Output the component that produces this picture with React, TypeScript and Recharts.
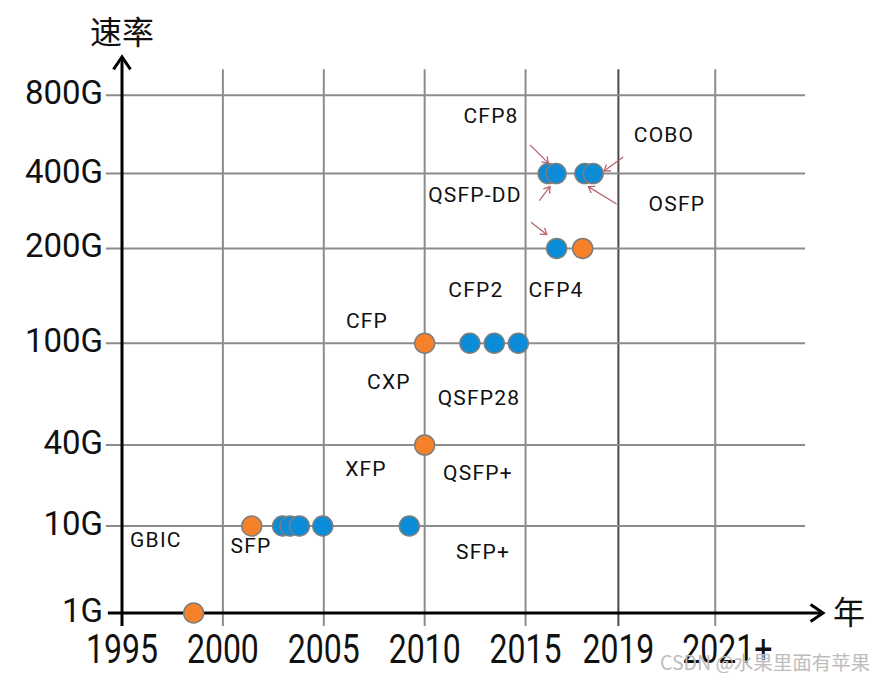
import React from 'react';
import { ScatterChart, Scatter, XAxis, YAxis, ReferenceLine, ReferenceDot } from 'recharts';

// speed axis (not evenly spaced in the original)
const SPEED_LABELS = ['1G', '10G', '40G', '100G', '200G', '400G', '800G'];
const SPEED_LEVELS = [0, 1, 1.93, 3.1, 4.19, 5.05, 5.95];

// year axis
const YEAR_TICKS = [1995, 2000, 2005, 2010, 2015, 2019.6, 2024.4];
const YEAR_LABELS = ['1995', '2000', '2005', '2010', '2015', '2019', '2021+'];

// orange modules
const ORANGE_YEARS = [1998.55, 2001.43, 2010, 2010, 2017.83];
const ORANGE_SPEEDS = ['1G', '10G', '40G', '100G', '200G'];

// blue modules
const BLUE_YEARS = [2002.96, 2003.33, 2003.79, 2004.95, 2009.24, 2012.24, 2013.45, 2014.64, 2016.54, 2016.12, 2016.51, 2017.94, 2018.35];
const BLUE_SPEEDS = ['10G', '10G', '10G', '10G', '10G', '100G', '100G', '100G', '200G', '400G', '400G', '400G', '400G'];

// module names
const NAMES = ['GBIC', 'SFP', 'SFP+', 'XFP', 'QSFP+', 'CXP', 'QSFP28', 'CFP', 'CFP2', 'CFP4', 'QSFP-DD', 'OSFP', 'CFP8', 'COBO'];
const NAME_YEARS = [1996.68, 2001.39, 2012.89, 2007.09, 2012.64, 2008.23, 2012.69, 2007.14, 2012.54, 2016.51, 2012.49, 2022.5, 2013.29, 2021.86];
const NAME_LEVELS = [0.84, 0.77, 0.7, 1.66, 1.61, 2.65, 2.47, 3.36, 3.71, 3.71, 4.8, 4.7, 5.71, 5.49];

// small pointer arrows: [fromYear, fromLevel, toYear, toLevel]
const POINTERS = [
  [2015.22, 5.38, 2016.13, 5.17],
  [2019.84, 5.24, 2018.89, 5.08],
  [2019.51, 4.7, 2018.11, 4.9],
  [2015.68, 4.74, 2016.21, 4.9],
  [2015.27, 4.49, 2016.05, 4.35],
];

const X_MIN = 1995;
const X_MAX = 2029.74;
const Y_MAX = 6.39;

const ORANGE = '#f5822b';
const BLUE = '#0a8cd8';
const GRID = '#8c8c8c';

const levelOf = (s: string) => SPEED_LEVELS[SPEED_LABELS.indexOf(s)];

const orangeData = ORANGE_YEARS.map((year, i) => ({ year, level: levelOf(ORANGE_SPEEDS[i]) }));
const blueData = BLUE_YEARS.map((year, i) => ({ year, level: levelOf(BLUE_SPEEDS[i]) }));
const nameData = NAMES.map((name, i) => ({ name, year: NAME_YEARS[i], level: NAME_LEVELS[i] }));

const dot = (fill: string) => (p: any) => (
  <circle cx={p.cx} cy={p.cy} r={10} fill={fill} stroke="#7d7d7d" strokeWidth={1.5} />
);

const nameShape = (p: any) => (
  <text
    x={p.cx}
    y={p.cy}
    textAnchor="middle"
    dominantBaseline="central"
    fontSize={21}
    letterSpacing={1.2}
    fontFamily="Roboto, sans-serif"
    fill="#111"
  >
    {p.payload.name}
  </text>
);

// line with an open arrow head at the end
const arrow = (color: string, width: number, head: number) => (p: any) => {
  const { x1, y1, x2, y2 } = p;
  if ([x1, y1, x2, y2].some((v) => typeof v !== 'number' || isNaN(v))) return null;
  const ang = Math.atan2(y2 - y1, x2 - x1);
  const a1 = ang + Math.PI - 0.6;
  const a2 = ang + Math.PI + 0.6;
  const d = `M${x2 + head * Math.cos(a1)},${y2 + head * Math.sin(a1)} L${x2},${y2} L${x2 + head * Math.cos(a2)},${y2 + head * Math.sin(a2)}`;
  return (
    <g>
      <line x1={x1} y1={y1} x2={x2} y2={y2} stroke={color} strokeWidth={width} />
      <path d={d} fill="none" stroke={color} strokeWidth={width} strokeLinejoin="miter" />
    </g>
  );
};

const XTick = (props: any) => {
  const { x, y, payload } = props;
  const i = YEAR_TICKS.indexOf(payload.value);
  const label = YEAR_LABELS[i] ?? '';
  const dx = label.endsWith('+') ? 12 : 0;
  return (
    <g transform={`translate(${x + dx},${y + 50}) scale(1,1.28)`}>
      <text textAnchor="middle" fontSize={32} fontFamily="Roboto, sans-serif" fill="#111">
        {label}
      </text>
    </g>
  );
};

const YTick = (props: any) => {
  const { x, y, payload } = props;
  const i = SPEED_LEVELS.indexOf(payload.value);
  return (
    <text x={x - 19} y={y + 9} textAnchor="end" fontSize={33} fontFamily="Roboto, sans-serif" fill="#111">
      {SPEED_LABELS[i]}
    </text>
  );
};

export default function App() {
  return (
    <div style={{ position: 'relative', width: 871, height: 665 }}>
      <ScatterChart width={871} height={665} margin={{ top: 49, right: 56, bottom: 0, left: 0 }}>
        <XAxis
          type="number"
          dataKey="year"
          domain={[X_MIN, X_MAX]}
          ticks={YEAR_TICKS}
          interval={0}
          height={60}
          axisLine={false}
          tickLine={false}
          tickSize={0}
          tickMargin={0}
          tick={XTick}
        />
        <YAxis
          type="number"
          dataKey="level"
          domain={[0, Y_MAX]}
          ticks={SPEED_LEVELS}
          interval={0}
          width={114}
          axisLine={false}
          tickLine={false}
          tickSize={0}
          tickMargin={0}
          tick={YTick}
        />

        {/* grid drawn as segments so they run past the plot like the original */}
        {YEAR_TICKS.slice(1).map((t) => (
          <ReferenceLine
            key={`v${t}`}
            segment={[{ x: t, y: -0.15 }, { x: t, y: 6.25 }]}
            stroke={t === 2019.6 ? '#4a4a4a' : GRID}
            strokeWidth={2}
            ifOverflow="visible"
          />
        ))}
        {SPEED_LEVELS.slice(1).map((l) => (
          <ReferenceLine
            key={`h${l}`}
            segment={[{ x: 1994.2, y: l }, { x: 2028.85, y: l }]}
            stroke={GRID}
            strokeWidth={2}
            ifOverflow="visible"
          />
        ))}

        {/* axes with arrows */}
        <ReferenceLine
          segment={[{ x: 1994.3, y: 0 }, { x: X_MAX, y: 0 }]}
          ifOverflow="visible"
          shape={arrow('#000', 3, 15)}
        />
        <ReferenceLine
          segment={[{ x: X_MIN, y: -0.15 }, { x: X_MIN, y: Y_MAX }]}
          ifOverflow="visible"
          shape={arrow('#000', 3, 15)}
        />

        {POINTERS.map((p, i) => (
          <ReferenceLine
            key={`p${i}`}
            segment={[{ x: p[0], y: p[1] }, { x: p[2], y: p[3] }]}
            ifOverflow="visible"
            shape={arrow('#b8646f', 1.3, 7)}
          />
        ))}

        <ReferenceDot
          x={X_MIN}
          y={Y_MAX}
          r={0}
          ifOverflow="visible"
          label={{ value: '速率', position: 'top', offset: 13, fontSize: 32, fill: '#111', fontFamily: '"Noto Sans CJK SC", sans-serif' }}
        />
        <ReferenceDot
          x={X_MAX}
          y={0}
          r={0}
          ifOverflow="visible"
          label={{ value: '年', position: 'right', offset: 10, fontSize: 32, fill: '#111', fontFamily: '"Noto Sans CJK SC", sans-serif' }}
        />

        <Scatter data={nameData} shape={nameShape} isAnimationActive={false} />
        <Scatter data={orangeData} shape={dot(ORANGE)} isAnimationActive={false} />
        <Scatter data={blueData} shape={dot(BLUE)} isAnimationActive={false} />
      </ScatterChart>
      <div
        style={{
          position: 'absolute',
          left: 652,
          top: 644,
          fontSize: 19.5,
          lineHeight: '20px',
          color: '#bdbdbd',
          fontFamily: '"Noto Sans CJK SC", sans-serif',
          whiteSpace: 'nowrap',
        }}
      >
        CSDN @水果里面有苹果
      </div>
    </div>
  );
}
